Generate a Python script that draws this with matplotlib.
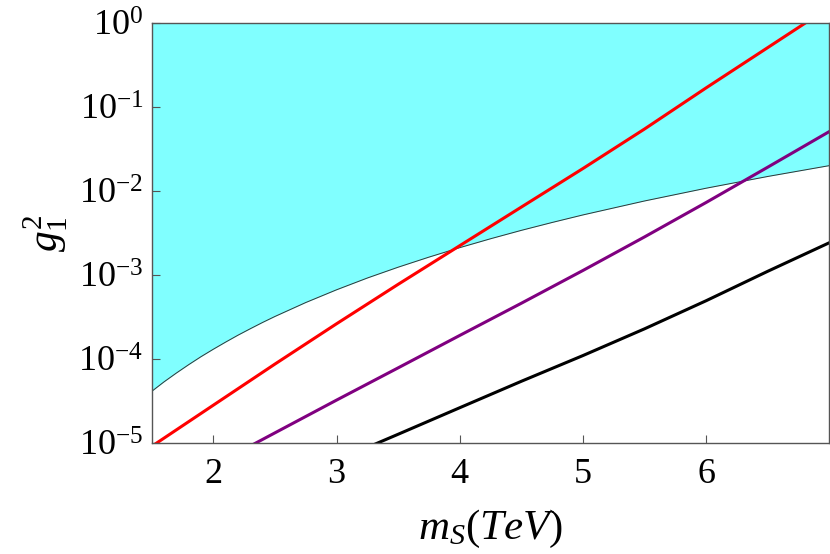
import matplotlib
matplotlib.use("Agg")
import matplotlib.pyplot as plt
import numpy as np

plt.rcParams['font.family'] = ['Liberation Serif', 'DejaVu Serif']
plt.rcParams['mathtext.fontset'] = 'custom'
plt.rcParams['mathtext.rm'] = 'Liberation Serif'
plt.rcParams['mathtext.it'] = 'Liberation Serif:italic'

# excluded region boundary (fill above it)
m_bound = [1.5, 1.6, 1.7, 1.8, 1.9, 2.0, 2.1, 2.2, 2.3, 2.4, 2.5, 2.75, 3.0, 3.25, 3.5,
           3.75, 4.0, 4.25, 4.5, 4.75, 5.0, 5.5, 6.0, 6.5, 7.0]
g_bound = [4.12e-5, 5.35e-5, 6.81e-5, 8.57e-5, 1.067e-4, 1.309e-4, 1.592e-4, 1.923e-4,
           2.296e-4, 2.729e-4, 3.214e-4, 4.71e-4, 6.68e-4, 9.23e-4, 1.242e-3, 1.637e-3,
           2.123e-3, 2.71e-3, 3.412e-3, 4.236e-3, 5.21e-3, 7.64e-3, 1.084e-2, 1.496e-2, 2.014e-2]

m_red = [1.5, 2.0, 2.5, 3.0, 3.5, 4.0, 4.5, 5.0, 5.5, 6.0, 6.5, 7.0]
g_red = [9.12e-6, 2.82e-5, 8.71e-5, 2.63e-4, 7.76e-4, 2.24e-3, 6.46e-3, 1.86e-2, 5.5e-2, 0.170, 0.513, 1.55]

m_purple = [2.0, 2.5, 3.0, 3.5, 4.0, 4.5, 5.0, 5.5, 6.0, 6.5, 7.0]
g_purple = [5.37e-6, 1.32e-5, 3.24e-5, 7.85e-5, 1.91e-4, 4.62e-4, 1.135e-3, 2.85e-3, 7.33e-3, 1.93e-2, 5.13e-2]

m_black = [3.0, 3.5, 4.0, 4.5, 5.0, 5.5, 6.0, 6.5, 7.0]
g_black = [6.17e-6, 1.27e-5, 2.63e-5, 5.43e-5, 1.10e-4, 2.29e-4, 4.95e-4, 1.11e-3, 2.43e-3]

xticks = [2, 3, 4, 5, 6]

fig = plt.figure(figsize=(8.3, 5.54), dpi=100)
ax = fig.add_axes([0.1828, 0.2004, 0.8164, 0.7576])

ax.fill_between(m_bound, g_bound, 10, color='#80ffff', lw=0)
ax.plot(m_bound, g_bound, color='#333333', lw=0.7)
ax.plot(m_red, g_red, color='#ff0000', lw=2.2)
ax.plot(m_purple, g_purple, color='#800080', lw=2.2)
ax.plot(m_black, g_black, color='#000000', lw=2.2)

ax.set_yscale('log')
ax.set_xlim(1.5, 7.0)
ax.set_ylim(1e-5, 1)
ax.set_xticks(xticks)
ax.set_yticks([1e-5, 1e-4, 1e-3, 1e-2, 1e-1, 1])
ax.yaxis.set_minor_locator(matplotlib.ticker.NullLocator())

for s in ax.spines.values():
    s.set_color('#555555')
    s.set_linewidth(1.0)
ax.tick_params(axis='both', which='major', direction='in', length=6, width=0.8,
               color='#555555', labelsize=26, pad=11)
ax.tick_params(axis='y', pad=6)

ax.set_xlabel(r'$m_S(TeV)$', fontsize=31, labelpad=12)
ax.set_ylabel(r'$g_{\mathit{1}}^{2}$', fontsize=30, labelpad=6)

fig.savefig('out.png', dpi=100)
